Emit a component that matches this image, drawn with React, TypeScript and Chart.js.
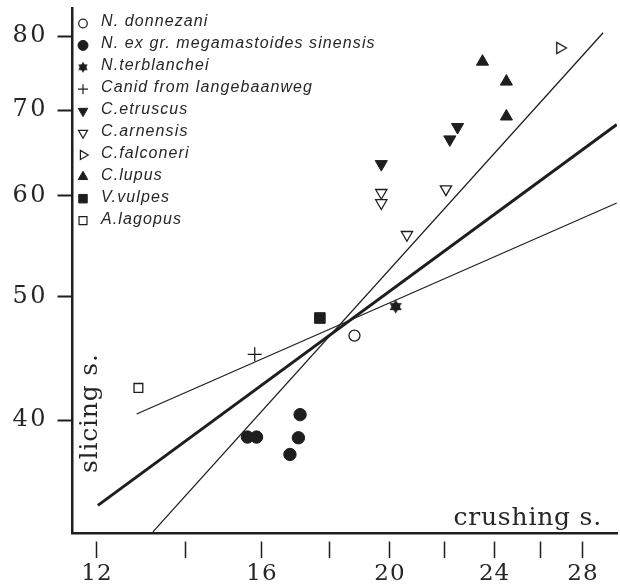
import React, { useEffect, useRef } from 'react';
import { Chart, registerables } from 'chart.js';
import { drawPoint } from 'chart.js/helpers';

Chart.register(...registerables);

// ---------- data ----------
const seriesNames = [
  'N. donnezani',
  'N. ex gr. megamastoides sinensis',
  'N.terblanchei',
  'Canid from langebaanweg',
  'C.etruscus',
  'C.arnensis',
  'C.falconeri',
  'C.lupus',
  'V.vulpes',
  'A.lagopus',
];

const donnezaniX = [18.8];
const donnezaniY = [46.6];
const sinensisX = [15.6, 15.85, 17.1, 17.05, 16.8];
const sinensisY = [38.8, 38.8, 40.4, 38.75, 37.6];
const terblancheiX = [20.2];
const terblancheiY = [49.1];
const langebaanwegX = [15.8];
const langebaanwegY = [45.05];
const etruscusX = [19.7, 22.2, 22.5];
const etruscusY = [63.5, 66.4, 67.9];
const arnensisX = [19.7, 19.7, 20.6, 22.05];
const arnensisY = [60.3, 59.2, 55.9, 60.7];
const falconeriX = [26.9];
const falconeriY = [78.3];
const lupusX = [23.5, 24.5, 24.5];
const lupusY = [76.4, 73.7, 69.2];
const vulpesX = [17.7];
const vulpesY = [48.1];
const lagopusX = [12.9];
const lagopusY = [42.4];

const thickLineX = [12.02, 29.7];
const thickLineY = [34.3, 68.2];
const steepLineX = [13.23, 29.0];
const steepLineY = [32.7, 80.5];
const shallowLineX = [12.86, 29.7];
const shallowLineY = [40.45, 59.2];

const xTickValues = [12, 14, 16, 18, 20, 22, 24, 26, 28];
const xTickLabels = ['12', '', '16', '', '20', '', '24', '', '28'];
const yTickValues = [40, 50, 60, 70, 80];
const yTickLabels = ['40', '50', '60', '70', '80'];
const xTitle = 'crushing s.';
const yTitle = 'slicing s.';

// ---------- styles ----------
const INK = '#1e1e1e';
const TEXT = '#262626';
const SERIF = '"DejaVu Serif", serif';
const SANS = '"Liberation Sans", Arial, sans-serif';

const toXY = (xs: number[], ys: number[]) => xs.map((x, i) => ({ x, y: ys[i] }));

function makeStar(size: number) {
  const c = document.createElement('canvas');
  c.width = size;
  c.height = size;
  const g = c.getContext('2d')!;
  g.fillStyle = INK;
  const cx = size / 2;
  const cy = size / 2;
  const R = size / 2 - 0.5;
  for (const base of [-Math.PI / 2, Math.PI / 2]) {
    g.beginPath();
    for (let k = 0; k < 3; k++) {
      const a = base + (k * 2 * Math.PI) / 3;
      const px = cx + R * Math.cos(a);
      const py = cy + R * Math.sin(a);
      if (k === 0) g.moveTo(px, py);
      else g.lineTo(px, py);
    }
    g.closePath();
    g.fill();
  }
  g.beginPath();
  g.arc(cx, cy, R * 0.6, 0, Math.PI * 2);
  g.fill();
  return c;
}

export default function App() {
  const ref = useRef<HTMLCanvasElement | null>(null);

  useEffect(() => {
    document.body.style.margin = '0';
    const canvas = ref.current!;
    const star = makeStar(15);
    const starSmall = makeStar(12);

    const markers = [
      { pointStyle: 'circle', radius: 5.5, rotation: 0, filled: false, legendRadius: 4.3 },
      { pointStyle: 'circle', radius: 6.2, rotation: 0, filled: true, legendRadius: 5 },
      { pointStyle: star, radius: 6, rotation: 0, filled: true, legendRadius: 5, legendImg: starSmall },
      { pointStyle: 'cross', radius: 7, rotation: 0, filled: false, legendRadius: 5 },
      { pointStyle: 'triangle', radius: 7, rotation: 180, filled: true, legendRadius: 5.5 },
      { pointStyle: 'triangle', radius: 6.5, rotation: 180, filled: false, legendRadius: 5.2 },
      { pointStyle: 'triangle', radius: 6.5, rotation: 90, filled: false, legendRadius: 5.2 },
      { pointStyle: 'triangle', radius: 7, rotation: 0, filled: true, legendRadius: 5.5 },
      { pointStyle: 'rect', radius: 7.5, rotation: 0, filled: true, legendRadius: 6 },
      { pointStyle: 'rect', radius: 6.2, rotation: 0, filled: false, legendRadius: 5.6 },
    ];

    const seriesData = [
      toXY(donnezaniX, donnezaniY),
      toXY(sinensisX, sinensisY),
      toXY(terblancheiX, terblancheiY),
      toXY(langebaanwegX, langebaanwegY),
      toXY(etruscusX, etruscusY),
      toXY(arnensisX, arnensisY),
      toXY(falconeriX, falconeriY),
      toXY(lupusX, lupusY),
      toXY(vulpesX, vulpesY),
      toXY(lagopusX, lagopusY),
    ];

    const pointSets = seriesData.map((d, i) => {
      const m = markers[i];
      return {
        label: seriesNames[i],
        data: d,
        showLine: false,
        pointStyle: m.pointStyle as any,
        pointRadius: m.radius,
        pointRotation: m.rotation,
        pointBackgroundColor: m.filled ? INK : '#ffffff',
        pointBorderColor: INK,
        pointBorderWidth: m.filled ? 1 : 1.3,
        pointHoverRadius: m.radius,
        order: 0,
      };
    });

    const lineSet = (xs: number[], ys: number[], w: number, label: string) => ({
      label,
      data: toXY(xs, ys),
      showLine: true,
      borderColor: INK,
      borderWidth: w,
      pointRadius: 0,
      pointHoverRadius: 0,
      fill: false,
      order: 5,
    });

    const datasets: any[] = [
      ...pointSets,
      lineSet(thickLineX, thickLineY, 3, 'thick'),
      lineSet(steepLineX, steepLineY, 1.3, 'steep'),
      lineSet(shallowLineX, shallowLineY, 1.3, 'shallow'),
    ];

    const spacingPatch = {
      id: 'spacingPatch',
      beforeDraw(chart: any) {
        const conf: [string, string][] = [
          ['y', '2.5px'],
          ['x', '1px'],
        ];
        for (const [id, sp] of conf) {
          const s = chart.scales[id];
          if (s && !s.__patched) {
            const orig = s.drawLabels.bind(s);
            s.drawLabels = (ca: any) => {
              const c = chart.ctx as any;
              const prev = c.letterSpacing;
              c.letterSpacing = sp;
              orig(ca);
              c.letterSpacing = prev || '0px';
            };
            s.__patched = true;
          }
        }
      },
    };

    const overlay = {
      id: 'overlay',
      afterDraw(chart: any) {
        const ctx = chart.ctx as CanvasRenderingContext2D;
        // legend inside plot
        ctx.save();
        const x0 = 83;
        const y0 = 22;
        const step = 21.9;
        for (let i = 0; i < seriesNames.length; i++) {
          const m: any = markers[i];
          const y = y0 + i * step;
          ctx.save();
          ctx.fillStyle = m.filled ? INK : '#ffffff';
          ctx.strokeStyle = INK;
          ctx.lineWidth = m.filled ? 1 : 1.2;
          const style = m.legendImg ? m.legendImg : m.pointStyle;
          drawPoint(ctx, { pointStyle: style, rotation: m.rotation, radius: m.legendRadius, borderWidth: ctx.lineWidth } as any, x0, y + 1.5);
          ctx.restore();
          ctx.fillStyle = TEXT;
          ctx.font = 'italic 16px ' + SANS;
          (ctx as any).letterSpacing = '1.1px';
          ctx.textAlign = 'left';
          ctx.textBaseline = 'middle';
          ctx.fillText(seriesNames[i], 101, y);
        }
        ctx.restore();

        // axis titles inside plot
        ctx.save();
        (ctx as any).letterSpacing = '0.8px';
        ctx.fillStyle = TEXT;
        ctx.font = '25px ' + SERIF;
        ctx.textAlign = 'right';
        ctx.textBaseline = 'alphabetic';
        ctx.fillText(xTitle, 602, 525);
        ctx.translate(97, 473);
        ctx.rotate(-Math.PI / 2);
        ctx.textAlign = 'left';
        ctx.fillText(yTitle, 0, 0);
        ctx.restore();
      },
    };

    const chart = new Chart(canvas, {
      type: 'scatter',
      data: { datasets },
      options: {
        animation: false,
        responsive: false,
        devicePixelRatio: 1,
        layout: { autoPadding: false, padding: { left: 0, top: 8, right: 3, bottom: 0 } },
        plugins: { legend: { display: false }, tooltip: { enabled: false } },
        scales: {
          x: {
            type: 'logarithmic',
            min: 11.49,
            max: 29.71,
            afterBuildTicks: (s: any) => {
              s.ticks = xTickValues.map((v) => ({ value: v }));
            },
            afterFit: (s: any) => {
              s.height = 55;
              s.paddingLeft = 0;
              s.paddingRight = 0;
            },
            ticks: {
              autoSkip: false,
              maxRotation: 0,
              minRotation: 0,
              padding: 2,
              color: TEXT,
              font: { family: SERIF, size: 23 },
              callback: (_v: any, i: number) => xTickLabels[i],
            },
            grid: {
              drawOnChartArea: false,
              drawTicks: true,
              tickLength: 25,
              tickWidth: 1.5,
              tickColor: INK,
              tickBorderDash: [0, 7, 18, 100],
            },
            border: { display: true, color: INK, width: 2.5 },
          },
          y: {
            type: 'logarithmic',
            min: 32.63,
            max: 84.17,
            afterBuildTicks: (s: any) => {
              s.ticks = yTickValues.map((v) => ({ value: v }));
            },
            afterFit: (s: any) => {
              s.width = 72;
              s.paddingTop = 0;
              s.paddingBottom = 0;
            },
            ticks: {
              autoSkip: false,
              padding: 1,
              color: TEXT,
              font: { family: SERIF, size: 24 },
              callback: (_v: any, i: number) => yTickLabels[i],
            },
            grid: {
              drawOnChartArea: false,
              drawTicks: true,
              tickLength: 23,
              tickWidth: 2,
              tickColor: INK,
              tickBorderDash: [0, 8.5, 14.5, 100],
            },
            border: { display: true, color: INK, width: 2.5 },
          },
        },
      } as any,
      plugins: [spacingPatch, overlay],
    });

    return () => chart.destroy();
  }, []);

  return (
    <div style={{ width: 620, height: 588, overflow: 'hidden', background: '#fff' }}>
      <canvas ref={ref} width={620} height={588} style={{ display: 'block' }} />
    </div>
  );
}
